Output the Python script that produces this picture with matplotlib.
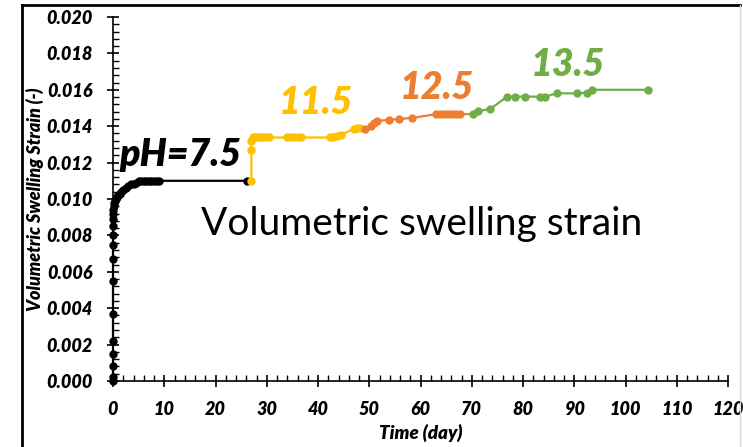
import numpy as np
import matplotlib.pyplot as plt
from matplotlib.ticker import MultipleLocator, FormatStrFormatter

plt.rcParams['font.family'] = ['Lato', 'DejaVu Sans']

# pH 7.5
t_75 = [0, 0, 0, 0, 0, 0, 0, 0, 0, 0, 0, 0, 0, 0.05, 0.1, 0.2, 0.3, 0.5, 0.8, 1.0, 1.3, 1.6, 2.0,
        2.5, 3.0, 3.5, 4.0, 4.5, 5.0, 5.5, 6.0, 6.5, 7.0, 7.5, 8.0, 8.5, 9.0, 26.2]
s_75 = [0.0, 0.0002, 0.0008, 0.0015, 0.0022, 0.0037, 0.0055, 0.0067, 0.0075, 0.0080, 0.0085,
        0.0089, 0.0092, 0.0094, 0.0096, 0.0098, 0.0099, 0.0100, 0.0101, 0.0102, 0.0103, 0.0104,
        0.0105, 0.0106, 0.0107, 0.0108, 0.0108, 0.0109, 0.0110, 0.0110, 0.0110, 0.0110, 0.0110,
        0.0110, 0.0110, 0.0110, 0.0110, 0.0110]
# pH 11.5
t_115 = [27.0, 27.0, 27.0, 27.3, 27.8, 28.3, 28.8, 29.3, 29.8, 30.5, 34.0, 34.6, 35.3, 36.0,
         36.7, 42.4, 43.0, 43.7, 44.4, 47.0, 47.6, 48.2]
s_115 = [0.0110, 0.0127, 0.0132, 0.01338, 0.01338, 0.01338, 0.01338, 0.01338, 0.01338, 0.01338,
         0.01338, 0.01338, 0.01338, 0.01338, 0.01338, 0.01338, 0.01340, 0.01345, 0.01352,
         0.01385, 0.01388, 0.01390]
# pH 12.5
t_125 = [49.2, 50.4, 51.0, 51.5, 53.9, 55.8, 58.3, 63.0, 63.8, 64.6, 65.4, 66.2, 67.0, 67.8]
s_125 = [0.01385, 0.01400, 0.01418, 0.01430, 0.01434, 0.01440, 0.01445, 0.01466, 0.01466,
         0.01466, 0.01466, 0.01466, 0.01466, 0.01466]
# pH 13.5
t_135 = [70.3, 71.3, 73.6, 76.9, 78.4, 80.4, 83.3, 84.3, 86.6, 90.5, 92.5, 93.5, 104.4]
s_135 = [0.01467, 0.01484, 0.01494, 0.01563, 0.01563, 0.01563, 0.01562, 0.01562, 0.01581,
         0.01580, 0.01584, 0.01600, 0.01600]

series = [(t_75, s_75, 'black'), (t_115, s_115, '#FFC000'),
          (t_125, s_125, '#ED7D31'), (t_135, s_135, '#70AD47')]

fig = plt.figure(figsize=(7.43, 4.47), dpi=100)
ax = fig.add_axes([113 / 743, 1 - 381 / 447, 615 / 743, 364 / 447])

for i, (t, s, c) in enumerate(series):
    tl, sl = list(t), list(s)
    if i + 1 < len(series):
        tl.append(series[i + 1][0][0])
        sl.append(series[i + 1][1][0])
    ax.plot(tl, sl, '-', color=c, lw=1.6, zorder=2, clip_on=False)
    ax.plot(t, s, 'o', color=c, ms=5, zorder=3, clip_on=False)

ax.set_xlim(0, 120)
ax.set_ylim(0, 0.020)
ax.xaxis.set_major_locator(MultipleLocator(10))
ax.xaxis.set_minor_locator(MultipleLocator(2))
ax.yaxis.set_major_locator(MultipleLocator(0.002))
ax.yaxis.set_minor_locator(MultipleLocator(0.0004))
ax.yaxis.set_major_formatter(FormatStrFormatter('%.3f'))
ax.tick_params(which='major', direction='inout', length=9, width=1.2, labelsize=13)
ax.tick_params(which='minor', direction='in', length=4, width=1.0)
ax.tick_params(axis='y', which='major', pad=10)
ax.tick_params(axis='x', which='major', pad=10)
for lab in ax.get_xticklabels() + ax.get_yticklabels():
    lab.set_fontweight('heavy')
    lab.set_fontstyle('italic')
ax.spines['top'].set_visible(False)
ax.spines['right'].set_visible(False)
ax.spines['left'].set_linewidth(1.2)
ax.spines['bottom'].set_linewidth(1.2)

ax.set_xlabel('Time (day)', fontsize=13.5, fontweight='heavy', fontstyle='italic', labelpad=4)
ax.set_ylabel('Volumetric Swelling Strain (-)', fontsize=13, fontweight='heavy',
              fontstyle='italic', labelpad=2)

ax.text(13.1, 0.01242, 'pH=7.5', fontsize=27, fontweight='heavy', fontstyle='italic',
        color='black', ha='center', va='center')
ax.text(39.6, 0.01527, '11.5', fontsize=27, fontweight='heavy', fontstyle='italic',
        color='#FFC000', ha='center', va='center')
ax.text(63.2, 0.0161, '12.5', fontsize=27, fontweight='heavy', fontstyle='italic',
        color='#ED7D31', ha='center', va='center')
ax.text(88.8, 0.01736, '13.5', fontsize=27, fontweight='heavy', fontstyle='italic',
        color='#70AD47', ha='center', va='center')
ax.text(60.3, 0.00865, 'Volumetric swelling strain', fontsize=28, color='black',
        ha='center', va='center')

# frame around the picture
fig.add_artist(plt.Line2D([22 / 743, 22 / 743], [0, 1 - 5 / 447], color='black', lw=2,
                          transform=fig.transFigure))
fig.add_artist(plt.Line2D([22 / 743, 740 / 743], [1 - 5 / 447, 1 - 5 / 447], color='black',
                          lw=2, transform=fig.transFigure))
fig.add_artist(plt.Line2D([740 / 743, 740 / 743], [0, 1 - 5 / 447], color='#d9d9d9', lw=1,
                          transform=fig.transFigure))

fig.savefig('out.png', dpi=100)
